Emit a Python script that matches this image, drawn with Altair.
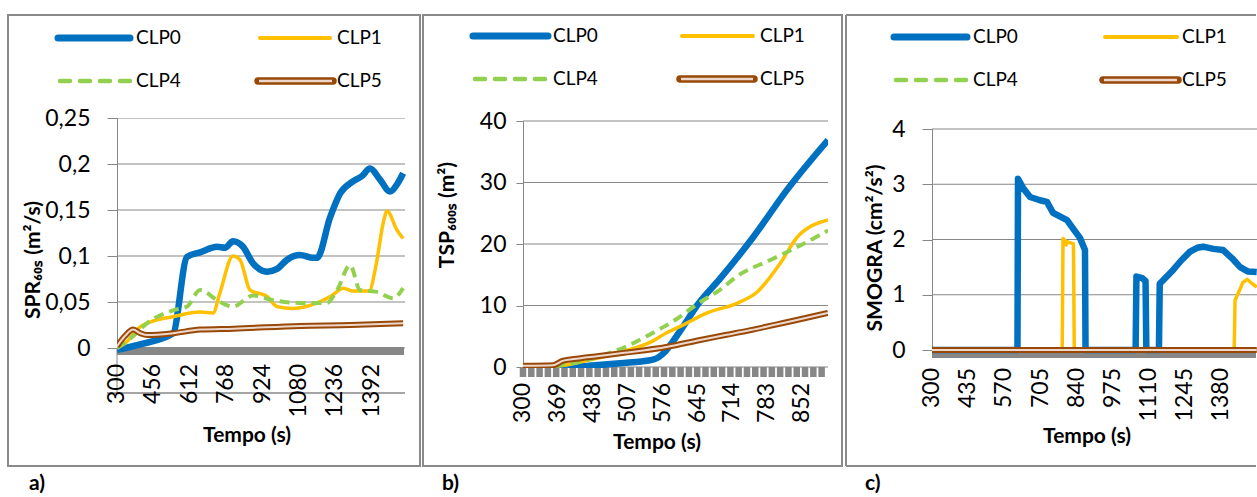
import altair as alt
import pandas as pd

FONT = "Lato"
GRID = "#878787"
BORDER = "#8a8a8a"
BLUE = "#0070C0"
YELLOW = "#FFC000"
GREEN = "#92D050"
BROWN = "#984807"
BROWN_IN = "#EED8CB"

# ---------------- a) SPR60s (m2/s) ----------------
a_t_clp0 = [300, 399, 540, 600, 656, 729, 763, 797, 840, 883, 943, 986, 1029, 1084, 1140,
            1157, 1213, 1256, 1311, 1350, 1384, 1427, 1470, 1500, 1526]
a_v_clp0 = [-0.002, 0.004, 0.016, 0.099, 0.104, 0.11, 0.109, 0.116, 0.11, 0.092, 0.083, 0.086,
            0.096, 0.101, 0.098, 0.098, 0.142, 0.168, 0.181, 0.187, 0.195, 0.183, 0.17, 0.178, 0.19]
a_t_clp1 = [300, 334, 399, 441, 540, 656, 711, 741, 797, 827, 870, 943, 986, 1054, 1157, 1226,
            1269, 1311, 1380, 1410, 1440, 1457, 1500, 1526]
a_v_clp1 = [0, 0.005, 0.023, 0.028, 0.034, 0.039, 0.038, 0.06, 0.1, 0.096, 0.063, 0.056, 0.045,
            0.043, 0.049, 0.058, 0.065, 0.062, 0.062, 0.09, 0.135, 0.149, 0.128, 0.119]
a_t_clp4 = [300, 356, 429, 540, 600, 656, 729, 797, 883, 969, 1084, 1200, 1243, 1299, 1341,
            1414, 1483, 1526]
a_v_clp4 = [0, 0.01, 0.027, 0.041, 0.045, 0.063, 0.052, 0.045, 0.057, 0.052, 0.049, 0.049,
            0.063, 0.09, 0.063, 0.061, 0.054, 0.065]
a_t_clp5 = [300, 334, 369, 400, 429, 540, 656, 800, 1084, 1300, 1526]
a_v_clp5 = [0.002, 0.013, 0.02, 0.016, 0.014, 0.016, 0.02, 0.021, 0.024, 0.025, 0.027]
a_xticks = [300, 456, 612, 768, 924, 1080, 1236, 1392]
a_yticks = [0, 0.05, 0.1, 0.15, 0.2, 0.25]

# ---------------- b) TSP600s (m2) ----------------
b_t_clp0 = [300, 380, 430, 492, 557, 581, 595, 620, 644, 690, 755, 822, 903]
b_v_clp0 = [0, 0, 0.2, 0.6, 1.2, 2.5, 4.0, 7.0, 10.0, 14.4, 21.1, 28.8, 36.9]
b_t_clp1 = [300, 373, 413, 492, 551, 585, 611, 664, 724, 763, 809, 842, 903]
b_v_clp1 = [0, 0.2, 0.8, 2.4, 4.0, 5.6, 6.6, 8.8, 10.4, 12.2, 16.9, 21.1, 23.9]
b_t_clp4 = [300, 373, 446, 506, 551, 600, 644, 690, 724, 789, 842, 903]
b_v_clp4 = [0, 0.3, 1.6, 3.4, 5.3, 7.6, 10.2, 12.6, 14.8, 17.4, 19.5, 22.2]
b_t_clp5 = [300, 360, 378, 400, 450, 500, 586, 650, 700, 750, 800, 850, 903]
b_v_clp5 = [0.2, 0.3, 1.0, 1.3, 1.8, 2.3, 3.3, 4.4, 5.2, 6.0, 6.9, 7.8, 8.8]
b_xticks = [300, 369, 438, 507, 576, 645, 714, 783, 852]
b_yticks = [0, 10, 20, 30, 40]

# ---------------- c) SMOGRA (cm2/s2) ----------------
c_t_clp0 = [300, 619, 621, 640, 666, 703, 729, 752, 804, 826, 852, 871, 873, 1060, 1063, 1085,
            1097, 1100, 1147, 1150, 1170, 1200, 1230, 1263, 1290, 1312, 1350, 1386, 1420, 1450,
            1480, 1512]
c_v_clp0 = [0, 0, 3.1, 2.93, 2.77, 2.71, 2.68, 2.48, 2.35, 2.2, 2.03, 1.81, 0, 0, 1.33, 1.3,
            1.25, 0, 0, 1.2, 1.3, 1.45, 1.62, 1.78, 1.85, 1.87, 1.83, 1.81, 1.66, 1.5, 1.42, 1.41]
c_t_clp1 = [300, 786, 789, 797, 801, 804, 828, 831, 1428, 1431, 1445, 1460, 1476, 1495, 1512]
c_v_clp1 = [0, 0, 2.02, 1.98, 1.9, 1.96, 1.92, 0, 0, 0.9, 1.05, 1.22, 1.28, 1.2, 1.14]
c_t_clp4 = [300, 1512]
c_v_clp4 = [0, 0]
c_t_clp5 = [300, 1512]
c_v_clp5 = [0, 0]
c_xticks = [300, 435, 570, 705, 840, 975, 1110, 1245, 1380]
c_yticks = [0, 1, 2, 3, 4]

ONE = pd.DataFrame({"k": [0]})


def frame(t, v):
    return pd.DataFrame({"t": t, "v": v})


def text_mark(txt, x, y, size, bold=False, angle=0, align="center", baseline="middle"):
    kw = dict(text=txt, font=FONT, fontSize=size, color="#000", align=align, baseline=baseline)
    if bold:
        kw["fontWeight"] = "bold"
    if angle:
        kw["angle"] = angle
    return alt.Chart(ONE).mark_text(**kw).encode(x=alt.value(x), y=alt.value(y))


def hrule(x1, x2, y, color, width, dash=None, cap="butt"):
    kw = dict(color=color, strokeWidth=width, strokeCap=cap)
    if dash:
        kw["strokeDash"] = dash
    return alt.Chart(ONE).mark_rule(**kw).encode(
        x=alt.value(x1), x2=alt.value(x2), y=alt.value(y))


def vrule(x, y1, y2, color, width):
    return alt.Chart(ONE).mark_rule(color=color, strokeWidth=width).encode(
        x=alt.value(x), y=alt.value(y1), y2=alt.value(y2))


def legend(lg):
    y1, y2 = lg["rows"]
    a0, a1, ta = lg["col1"]
    b0, b1, tb = lg["col2"]
    c0, c1 = lg["clp5"]
    return [
        hrule(a0, a1, y1, BLUE, 7, cap="round"),
        text_mark("CLP0", ta, y1, 19, align="left"),
        hrule(b0, b1, y1, YELLOW, 4, cap="round"),
        text_mark("CLP1", tb, y1, 19, align="left"),
        hrule(a0 + 2, a1, y2, GREEN, 4.5, dash=[10, 10], cap="round"),
        text_mark("CLP4", ta, y2, 19, align="left"),
        hrule(c0, c1, y2, BROWN, 7.5, cap="round"),
        hrule(c0 + 1, c1 - 1, y2, BROWN_IN, 2.5),
        text_mark("CLP5", tb, y2, 19, align="left"),
    ]


def panel(p):
    xs = alt.Scale(domain=p["xdom"], range=[0, p["xw"]], zero=False, nice=False)
    ys = alt.Scale(domain=p["ydom"], range=[p["ybot"], p["ytop"]], zero=False, nice=False)
    yaxis = alt.Axis(values=p["yticks"],
                     labelExpr="replace(format(datum.value, '~g'), '.', ',')",
                     title=None, grid=False, domainColor=GRID, domainWidth=1,
                     tickColor=GRID, tickSize=p["ticksize"], tickWidth=1,
                     labelFont=FONT, labelFontSize=23, labelColor="#000",
                     labelPadding=p["labelpad"])

    def X(f):
        return alt.X(f, scale=xs, axis=None)

    def Y(f):
        return alt.Y(f, scale=ys, axis=yaxis)

    layers = []
    # horizontal gridlines
    layers.append(alt.Chart(pd.DataFrame({"g": p["yticks"]})).mark_rule(
        color=GRID, strokeWidth=1, clip=True).encode(
        y=Y("g:Q"), x=alt.value(0), x2=alt.value(p["xw"])))
    # category-axis tick band below the zero line
    if p.get("comb"):
        layers.append(alt.Chart(pd.DataFrame({"c": p["comb"]})).mark_rule(
            color=GRID, strokeWidth=6.5).encode(
            x=X("c:Q"), y=alt.value(p["band"][0]), y2=alt.value(p["band"][1])))
    else:
        layers.append(alt.Chart(ONE).mark_rect(color=GRID).encode(
            x=alt.value(0), x2=alt.value(p["xw"] - 1),
            y=alt.value(p["band"][0]), y2=alt.value(p["band"][1])))
    layers.extend(p.get("extra", []))

    # series
    def line(df, color, width, dash=None):
        kw = dict(color=color, strokeWidth=width, clip=True, strokeJoin="round",
                  interpolate=p["interp"])
        if dash:
            kw["strokeDash"] = dash
        return alt.Chart(df).mark_line(**kw).encode(x=X("t:Q"), y=Y("v:Q"))

    s = p["series"]
    layers.append(line(s[0], BLUE, 6.5))
    layers.append(line(s[1], YELLOW, 3.5))
    layers.append(line(s[2], GREEN, 4, dash=[10, 6]))
    layers.append(line(s[3], BROWN, 6))
    layers.append(line(s[3], BROWN_IN, 2))

    # tick labels of the time axis
    layers.append(alt.Chart(pd.DataFrame({"xt": p["xticks"]})).mark_text(
        angle=270, align="right", baseline="middle", font=FONT, fontSize=23,
        color="#000").encode(x=X("xt:Q"), y=alt.value(p["xlab_y"]),
                              text=alt.Text("xt:Q", format="d")))

    # titles and panel letter
    layers.append(text_mark(p["ytitle"], p["ytitle_xy"][0], p["ytitle_xy"][1], 21,
                            bold=True, angle=270))
    layers.append(text_mark("Tempo (s)", p["xtitle_xy"][0], p["xtitle_xy"][1], 21, bold=True))
    layers.append(text_mark(p["letter"], p["letter_xy"][0], p["letter_xy"][1], 21,
                            bold=True, align="left", baseline="alphabetic"))
    layers.extend(legend(p["legend"]))
    layers.extend(p["frame"])
    return alt.layer(*layers).properties(width=p["width"], height=250)


frame_a = [alt.Chart(ONE).mark_rect(fillOpacity=0, stroke=BORDER, strokeWidth=2).encode(
    x=alt.value(-109), x2=alt.value(303), y=alt.value(-103), y2=alt.value(348)),
    # invisible anchor fixing the page origin
    alt.Chart(ONE).mark_rect(opacity=0).encode(
    x=alt.value(-117), x2=alt.value(-116), y=alt.value(-118), y2=alt.value(-117))]
frame_b = [alt.Chart(ONE).mark_rect(fillOpacity=0, stroke=BORDER, strokeWidth=2).encode(
    x=alt.value(-100), x2=alt.value(319), y=alt.value(-103), y2=alt.value(348))]
frame_c = [hrule(-86, 324, -103, BORDER, 2), hrule(-86, 324, 348, BORDER, 2),
           vrule(-86, -103, 348, BORDER, 2)]

pa = dict(
    xdom=[300, 1534], xw=288, width=302, ydom=[0, 0.25], ybot=230, ytop=0,
    yticks=a_yticks, ticksize=10, labelpad=17, xticks=a_xticks, xlab_y=246,
    band=(229, 237), interp="monotone",
    extra=[vrule(0, 230, 275, GRID, 1), hrule(-10, 288, 275, GRID, 1.5)],
    series=[frame(a_t_clp0, a_v_clp0), frame(a_t_clp1, a_v_clp1),
            frame(a_t_clp4, a_v_clp4), frame(a_t_clp5, a_v_clp5)],
    ytitle="SPR₆₀ₛ (m²/s)", ytitle_xy=(-83, 142), xtitle_xy=(130, 318),
    letter="a)", letter_xy=(-88, 372),
    legend=dict(rows=(-80, -37), col1=(-59, 13, 19), col2=(143, 213, 220), clp5=(141, 216)),
    frame=frame_a,
)
pb = dict(
    xdom=[300, 903], xw=305, width=305, ydom=[0, 40], ybot=249, ytop=3,
    yticks=b_yticks, ticksize=7, labelpad=10, xticks=b_xticks, xlab_y=265,
    band=(249, 259), comb=[300 + 16.4 * k for k in range(37)], interp="monotone",
    series=[frame(b_t_clp0, b_v_clp0), frame(b_t_clp1, b_v_clp1),
            frame(b_t_clp4, b_v_clp4), frame(b_t_clp5, b_v_clp5)],
    ytitle="TSP₆₀₀ₛ (m²)", ytitle_xy=(-75, 97), xtitle_xy=(134, 325),
    letter="b)", letter_xy=(-81, 372),
    legend=dict(rows=(-82, -39), col1=(-50, 25, 30), col2=(159, 230, 237), clp5=(157, 231)),
    frame=frame_b,
)
pc = dict(
    xdom=[300, 1513], xw=325, width=325, ydom=[0, 4], ybot=232, ytop=11,
    yticks=c_yticks, ticksize=10, labelpad=17, xticks=c_xticks, xlab_y=250,
    band=(234, 240), interp="linear",
    series=[frame(c_t_clp0, c_v_clp0), frame(c_t_clp1, c_v_clp1),
            frame(c_t_clp4, c_v_clp4), frame(c_t_clp5, c_v_clp5)],
    ytitle="SMOGRA (cm²/s²)", ytitle_xy=(-56, 130), xtitle_xy=(155, 319),
    letter="c)", letter_xy=(-67, 372),
    legend=dict(rows=(-81, -38), col1=(-38, 35, 41), col2=(173, 245, 250), clp5=(171, 246)),
    frame=frame_c,
)

chart = alt.hconcat(panel(pa), panel(pb), panel(pc), spacing=104, bounds="flush").properties(
    padding=0).configure_view(strokeWidth=0, strokeOpacity=0)

chart.save("out.html", embed_options={"renderer": "svg", "actions": False})
